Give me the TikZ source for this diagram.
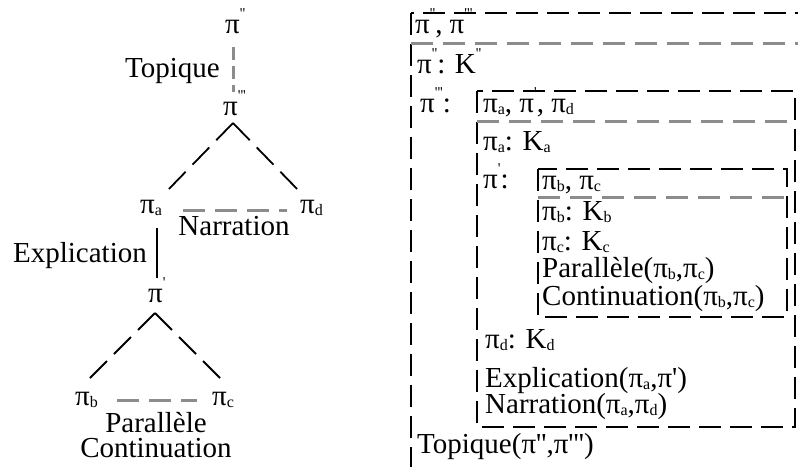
\documentclass[tikz,border=0pt]{standalone}
\usepackage{fontspec}
\setmainfont{Liberation Serif}
\usetikzlibrary{calc}
\newcommand\pq{\textquotesingle}
\newcommand\subl[1]{\raisebox{-2.5pt}{\fontsize{16}{16}\selectfont #1}}
\newcommand\supl[1]{\raisebox{15pt}{\fontsize{15}{15}\selectfont #1}}
\newcommand\pisub[1]{π\subl{#1}}
\newcommand\pisup[1]{π\supl{#1}}
\begin{document}
\begin{tikzpicture}[x=1pt,y=-1pt,
  txt/.style={font=\fontsize{29}{33}\selectfont, inner sep=0pt},
  lt/.style={txt, anchor=base west},
  boxdash/.style={draw=black, line width=1.5pt, dash pattern=on 22pt off 9pt},
  graydash/.style={draw=black!45, line width=3pt, dash pattern=on 22pt off 10pt},
  treedash/.style={draw=black, line width=1.8pt, dash pattern=on 24pt off 10pt},
  rel/.style={draw=black, line width=1.5pt}]
\useasboundingbox (0,0) rectangle (798,466);
\clip (0,0) rectangle (798,466);
% ---------------- left tree ----------------
\node[lt] (pi2) at (225,33) {\pisup{\pq\pq}};
\node[txt, anchor=base east] (topl) at (220,77) {Topique};
\node[lt] (pi3) at (223,115) {\pisup{\pq\pq\pq}};
\draw[graydash, dash pattern=on 13pt off 6pt] ($(pi2.base west)+(8,14)$) -- ($(pi3.base west)+(10,-23)$);
\node[lt] (pia) at (140,213) {\pisub{a}};
\node[lt] (pid) at (300,213) {\pisub{d}};
\draw[treedash] ($(pi3.base west)+(10,8)$) -- ($(pia.base west)+(26,-21)$);
\draw[treedash] ($(pi3.base west)+(10,8)$) -- ($(pid.base west)+(0,-21)$);
\draw[graydash] ($(pia.base west)+(43,-3)$) -- ($(pid.base west)+(-13,-3)$);
\node[txt, anchor=base] (narl) at (234,235) {Narration};
\node[lt] (pip) at (148,302) {\pisup{\pq}};
\draw[rel] ($(pia.base west)+(17,15)$) -- ($(pip.base west)+(9,-24)$);
\node[txt, anchor=base east] (expl) at (147,262) {Explication};
\node[lt] (pib) at (75,405) {\pisub{b}};
\node[lt] (pic) at (212,405) {\pisub{c}};
\draw[treedash] ($(pip.base west)+(7,11)$) -- ($(pib.base west)+(13,-25)$);
\draw[treedash] ($(pip.base west)+(7,11)$) -- ($(pic.base west)+(10,-25)$);
\draw[graydash] ($(pib.base west)+(42,-5)$) -- ($(pic.base west)+(-15,-5)$);
\node[txt, anchor=base] (parl) at (156,432) {Parallèle};
\node[txt, anchor=base] (contl) at (156,457) {Continuation};
% ---------------- right boxes ----------------
\draw[boxdash] (411,13) rectangle (840,500);
\draw[graydash] (411,43) -- (840,43);
\draw[boxdash] (477,91) rectangle (795,427);
\draw[graydash] (477,121) -- (795,121);
\draw[boxdash] (538,169) rectangle (787,317);
\draw[graydash] (538,197) -- (787,197);
% ---------------- right texts ----------------
\node[lt] (t1) at (415,33) {\pisup{\pq\pq}, \pisup{\pq\pq\pq}};
\node[lt] (t2) at (417,73) {\pisup{\pq\pq}: K\supl{\pq\pq}};
\node[lt] (t3) at (420,112) {\pisup{\pq\pq\pq}:};
\node[lt] (t4) at (483,112) {\pisub{a}, \pisup{\pq}, \pisub{d}};
\node[lt] (t5) at (483,150) {\pisub{a}: K\subl{a}};
\node[lt] (t6) at (483,188) {\pisup{\pq}:};
\node[lt] (t7) at (542,189) {\pisub{b}, \pisub{c}};
\node[lt] (t8) at (542,220) {\pisub{b}: K\subl{b}};
\node[lt] (t9) at (542,250) {\pisub{c}: K\subl{c}};
\node[lt] (t10) at (542,277) {Parallèle(\pisub{b},\pisub{c})};
\node[lt] (t11) at (542,305) {Continuation(\pisub{b},\pisub{c})};
\node[lt] (t12) at (485,348) {\pisub{d}: K\subl{d}};
\node[lt] (t13) at (485,387) {Explication(\pisub{a},π\pq)};
\node[lt] (t14) at (485,413) {Narration(\pisub{a},\pisub{d})};
\node[lt] (t15) at (417,453) {Topique(π\pq\pq,π\pq\pq\pq)};
\end{tikzpicture}
\end{document}
